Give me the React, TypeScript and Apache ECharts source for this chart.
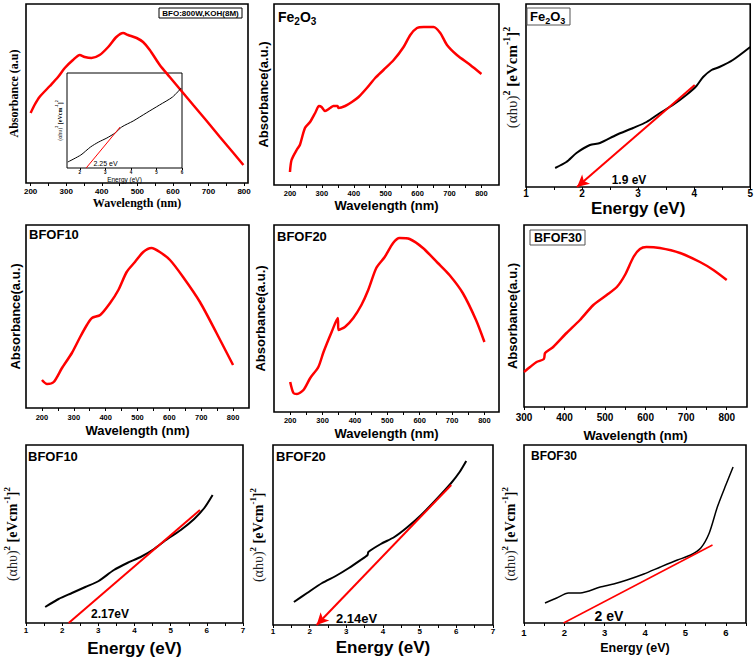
import React, { useEffect, useRef } from "react";
import * as echarts from "echarts";

const SANS = '"Liberation Sans", Arial, sans-serif';
const SERIF = '"Liberation Serif", "Times New Roman", serif';
const RED = "#ff0000";
const BLACK = "#000000";

// ---------- DATA (arbitrary absorbance / Tauc units) ----------
// (a) BFO:800W,KOH(8M) absorbance
const bfoWavelength = [200, 211, 225, 254, 277, 296, 319, 338, 352, 371, 394, 418, 441, 460, 474, 498, 516, 535, 563, 591, 624, 657, 695, 732, 770, 798];
const bfoAbsorbance = [70, 78, 86, 97, 106, 115, 123, 128, 126, 125, 128, 136, 146, 150, 148, 145, 141, 133, 118, 106, 92, 78, 62, 46, 30, 18];
// (a) inset Tauc plot
const bfoInsetEnergy = [1.53, 2.04, 2.42, 2.74, 3.06, 3.38, 3.64, 4.09, 4.6, 5.12, 5.63, 5.97];
const bfoInsetTauc = [6, 13, 21, 26, 30, 35, 41, 47, 55, 63, 71, 80];
const bfoInsetFitEnergy = [2.25, 3.58];
const bfoInsetFitTauc = [0, 41];

// (b) Fe2O3 absorbance
const fe2o3Wavelength = [200, 205, 221, 231, 247, 263, 279, 291, 299, 310, 326, 336, 349, 352, 373, 394, 415, 441, 467, 493, 525, 556, 577, 598, 619, 650, 671, 692, 723, 765, 800];
const fe2o3Absorbance = [13, 25, 35, 40, 57, 63, 72, 79, 78, 74, 77, 79, 79, 77, 79, 83, 88, 97, 107, 115, 125, 138, 150, 157, 158, 158, 152, 140, 130, 120, 111];

// (c) Fe2O3 Tauc
const fe2o3Energy = [1.52, 1.72, 1.9, 2.14, 2.32, 2.61, 2.91, 3.15, 3.39, 3.62, 3.86, 4.04, 4.16, 4.31, 4.45, 4.69, 5.0];
const fe2o3Tauc = [19, 25, 34, 42, 44, 52, 59, 65, 74, 82, 92, 101, 110, 117, 120, 127, 140];
const fe2o3FitEnergy = [4.01, 1.91];
const fe2o3FitTauc = [102, 0];

// (d) BFOF10 absorbance
const bfof10Wavelength = [200, 216, 237, 263, 294, 320, 341, 357, 383, 414, 440, 466, 492, 518, 544, 570, 602, 643, 696, 748, 800];
const bfof10Absorbance = [28, 24, 26, 40, 55, 71, 83, 90, 93, 105, 118, 136, 146, 156, 160, 156, 148, 131, 106, 75, 43];

// (e) BFOF20 absorbance
const bfof20Wavelength = [200, 210, 221, 241, 262, 287, 303, 328, 347, 349, 369, 395, 420, 441, 466, 492, 518, 538, 569, 610, 656, 692, 733, 774, 800];
const bfof20Absorbance = [30, 19, 18, 22, 34, 45, 60, 80, 94, 82, 85, 94, 107, 122, 144, 155, 169, 174, 173, 164, 149, 137, 119, 92, 70];

// (f) BFOF30 absorbance
const bfof30Wavelength = [300, 315, 331, 349, 352, 372, 405, 438, 471, 504, 529, 549, 570, 586, 602, 635, 685, 734, 767, 800];
const bfof30Absorbance = [35, 40, 45, 48, 54, 60, 74, 87, 102, 112, 120, 132, 150, 158, 160, 159, 154, 145, 137, 127];

// (g) BFOF10 Tauc
const bfof10Energy = [1.53, 1.9, 2.27, 2.64, 3.01, 3.43, 3.8, 4.17, 4.54, 4.91, 5.28, 5.65, 5.93, 6.16];
const bfof10Tauc = [16, 24, 30, 36, 42, 53, 60, 66, 74, 84, 93, 104, 115, 128];
const bfof10FitEnergy = [2.18, 5.81];
const bfof10FitTauc = [0, 113];

// (h) BFOF20 Tauc
const bfof20Energy = [1.57, 1.93, 2.34, 2.71, 3.07, 3.39, 3.58, 3.6, 3.94, 4.31, 4.67, 5.04, 5.49, 5.86, 6.09, 6.27];
const bfof20Tauc = [23, 32, 42, 49, 57, 65, 70, 73, 81, 88, 98, 110, 127, 142, 153, 164];
const bfof20FitEnergy = [5.86, 2.19];
const bfof20FitTauc = [140, 0];

// (i) BFOF30 Tauc
const bfof30Energy = [1.52, 1.81, 2.1, 2.39, 2.89, 3.22, 3.55, 3.97, 4.38, 4.8, 5.13, 5.38, 5.59, 5.79, 6.0, 6.18];
const bfof30Tauc = [20, 25, 30, 30, 36, 39, 43, 49, 56, 63, 68, 75, 90, 116, 138, 156];
const bfof30FitEnergy = [1.98, 5.67];
const bfof30FitTauc = [0, 78];

// tick labels
const wavelengthLabels = [200, 300, 400, 500, 600, 700, 800];
const wavelengthTicks = [200, 250, 300, 350, 400, 450, 500, 550, 600, 650, 700, 750, 800];
const bfof30WavelengthLabels = [300, 400, 500, 600, 700, 800];
const bfof30WavelengthTicks = [300, 350, 400, 450, 500, 550, 600, 650, 700, 750, 800];
const insetEnergyLabels = [2, 3, 4, 5, 6];
const fe2o3EnergyLabels = [1, 2, 3, 4, 5];
const fe2o3EnergyTicks = [1, 1.5, 2, 2.5, 3, 3.5, 4, 4.5, 5];
const energy7Labels = [1, 2, 3, 4, 5, 6, 7];
const energy7Ticks = [1, 1.5, 2, 2.5, 3, 3.5, 4, 4.5, 5, 5.5, 6, 6.5, 7];
const energy6Labels = [1, 2, 3, 4, 5, 6];
const energy6Ticks = [1, 1.5, 2, 2.5, 3, 3.5, 4, 4.5, 5, 5.5, 6, 6.5];

// ---------- LAYOUT ----------
const grids = [
  { left: 26, top: 4, width: 222, height: 179 },
  { left: 67, top: 73, width: 115, height: 95 },
  { left: 274, top: 4, width: 225, height: 181 },
  { left: 526, top: 4, width: 225, height: 183 },
  { left: 26, top: 225, width: 223, height: 183 },
  { left: 274, top: 225, width: 225, height: 187 },
  { left: 524, top: 225, width: 223, height: 182 },
  { left: 26, top: 445, width: 217, height: 178 },
  { left: 273, top: 445, width: 220, height: 180 },
  { left: 524, top: 445, width: 222, height: 178 },
];

const zip = (xs: number[], ys: number[]) => xs.map((x, i) => [x, ys[i]]);

const TAUC_NAME = "{n|(αhυ)}{s|2}{b| [eVcm}{s|-1}{b|]}{s|2}";
function taucStyle(size: number, sup: number, extra: any = {}) {
  return {
    fontFamily: SERIF,
    color: BLACK,
    ...extra,
    rich: {
      n: { fontFamily: SERIF, fontSize: size, fontWeight: "normal", color: "#222", lineHeight: size + 6 },
      b: { fontFamily: SERIF, fontSize: size, fontWeight: "bold", color: BLACK, lineHeight: size + 6 },
      s: { fontFamily: SERIF, fontSize: sup, fontWeight: "bold", color: BLACK, lineHeight: sup, verticalAlign: "top" },
    },
  };
}

function xAxis(
  i: number, min: number, max: number, labels: number[], ticks: number[],
  labelSize: number, margin: number, name: string, nameGap: number, nameStyle: any
) {
  return {
    type: "value", gridIndex: i, min, max,
    axisLine: { show: false },
    splitLine: { show: false },
    axisTick: { show: true, inside: false, length: i === 1 ? 2 : 3, lineStyle: { color: BLACK, width: 1 }, customValues: ticks },
    axisLabel: { customValues: labels, fontSize: labelSize, fontWeight: "bold", fontFamily: SANS, color: BLACK, margin },
    name, nameLocation: "middle", nameGap, nameTextStyle: nameStyle,
  };
}

function yAxis(i: number, name: string, nameGap: number, nameStyle: any) {
  return {
    type: "value", gridIndex: i, min: 0, max: grids[i].height,
    axisLine: { show: false }, axisTick: { show: false }, axisLabel: { show: false }, splitLine: { show: false },
    name, nameLocation: "middle", nameGap, nameTextStyle: nameStyle,
  };
}

function curve(i: number, data: number[][], color: string, width: number, extra: any = {}) {
  return {
    type: "line", xAxisIndex: i, yAxisIndex: i, data,
    showSymbol: false, symbol: "none", smooth: 0.25,
    lineStyle: { color, width }, silent: true, z: 3,
    ...extra,
  };
}

function arrow(fx: number[], fy: number[]) {
  return {
    silent: true,
    symbol: ["none", "arrow"],
    symbolSize: [9, 12],
    label: { show: false },
    emphasis: { disabled: true },
    lineStyle: { color: RED, width: 2, type: "solid" },
    data: [[{ coord: [fx[0], fy[0]] }, { coord: [fx[1], fy[1]] }]],
  };
}

const sansBold = (size: number) => ({ fontFamily: SANS, fontWeight: "bold", fontSize: size, color: BLACK });
const serifBold = (size: number) => ({ fontFamily: SERIF, fontWeight: "bold", fontSize: size, color: BLACK });

function label(text: string, x: number, y: number, font: string, align = "left") {
  return {
    type: "text", x, y, silent: true, z: 10,
    style: { text, font, fill: BLACK, align, textAlign: align, verticalAlign: "middle", textVerticalAlign: "middle" },
  };
}

function feLabel(x: number, y: number, size: number, sub: number) {
  return {
    type: "text", x, y, silent: true, z: 10,
    style: {
      text: "{a|Fe}{b|2}{a|O}{b|3}",
      fill: BLACK, align: "left", textAlign: "left", verticalAlign: "middle", textVerticalAlign: "middle",
      rich: {
        a: { fontFamily: SANS, fontWeight: "bold", fontSize: size, lineHeight: size + 4, fill: BLACK, color: BLACK },
        b: { fontFamily: SANS, fontWeight: "bold", fontSize: sub, lineHeight: sub, verticalAlign: "bottom", fill: BLACK, color: BLACK },
      },
    },
  };
}

function box(x: number, y: number, w: number, h: number, stroke: string) {
  return {
    type: "rect", silent: true, z: 9,
    shape: { x, y, width: w, height: h },
    style: { fill: "#ffffff", stroke, lineWidth: 1 },
  };
}

export default function App() {
  const ref = useRef<HTMLDivElement>(null);

  useEffect(() => {
    if (!ref.current) return;
    const chart = echarts.init(ref.current, null, { renderer: "svg" });

    const option: any = {
      animation: false,
      backgroundColor: "#ffffff",
      grid: grids.map((g, i) => ({
        ...g, containLabel: false, show: true,
        borderColor: BLACK, borderWidth: i === 1 ? 1 : 1.6, backgroundColor: "transparent",
      })),
      xAxis: [
        xAxis(0, 187, 811, wavelengthLabels, wavelengthTicks, 8, 4.5, "Wavelength (nm)", 14, serifBold(12)),
        xAxis(1, 1.5, 6, insetEnergyLabels, insetEnergyLabels, 4.5, 2.4, "Energy (eV)", 4.7, { ...sansBold(6.5), fontWeight: "normal" }),
        xAxis(2, 150, 855, wavelengthLabels, wavelengthTicks, 7.5, 4.7, "Wavelength (nm)", 12.5, sansBold(13)),
        xAxis(3, 1, 5, fe2o3EnergyLabels, fe2o3EnergyTicks, 10, 1.5, "Energy (eV)", 13, sansBold(17)),
        xAxis(4, 150, 850, wavelengthLabels, wavelengthTicks, 7.5, 5, "Wavelength (nm)", 15.5, sansBold(13)),
        xAxis(5, 150, 845, wavelengthLabels, wavelengthTicks, 7.5, 4, "Wavelength (nm)", 14.5, sansBold(13)),
        xAxis(6, 300, 850, bfof30WavelengthLabels, bfof30WavelengthTicks, 10, 5, "Wavelength (nm)", 21.5, sansBold(13)),
        xAxis(7, 1, 7, energy7Labels, energy7Ticks, 8, 3, "Energy (eV)", 16.5, sansBold(17)),
        xAxis(8, 1, 7, energy7Labels, energy7Ticks, 8, 2.7, "Energy (eV)", 13.5, sansBold(17)),
        xAxis(9, 1, 6.5, energy6Labels, energy6Ticks, 9.5, 4, "Energy (eV)", 18.7, sansBold(12.5)),
      ],
      yAxis: [
        yAxis(0, "Absorbance (a.u)", 6, serifBold(12)),
        yAxis(1, TAUC_NAME, 1, taucStyle(6, 4)),
        yAxis(2, "Absorbance(a.u.)", 4.5, sansBold(13)),
        yAxis(3, TAUC_NAME, 3.5, taucStyle(15, 10, { padding: [0, 0, 0, 36] })),
        yAxis(4, "Absorbance(a.u.)", 4.5, sansBold(13)),
        yAxis(5, "Absorbance(a.u.)", 7.5, sansBold(13)),
        yAxis(6, "Absorbance(a.u.)", 5.5, sansBold(13)),
        yAxis(7, TAUC_NAME, 4, taucStyle(14, 9)),
        yAxis(8, TAUC_NAME, 5, taucStyle(14, 9)),
        yAxis(9, TAUC_NAME, 4, taucStyle(14, 9)),
      ],
      series: [
        curve(0, zip(bfoWavelength, bfoAbsorbance), RED, 2.5),
        curve(1, zip(bfoInsetEnergy, bfoInsetTauc), BLACK, 1),
        curve(1, zip(bfoInsetFitEnergy, bfoInsetFitTauc), RED, 1, { smooth: false }),
        curve(2, zip(fe2o3Wavelength, fe2o3Absorbance), RED, 2.5),
        curve(3, zip(fe2o3Energy, fe2o3Tauc), BLACK, 2, { markLine: arrow(fe2o3FitEnergy, fe2o3FitTauc) }),
        curve(4, zip(bfof10Wavelength, bfof10Absorbance), RED, 2.5),
        curve(5, zip(bfof20Wavelength, bfof20Absorbance), RED, 2.5),
        curve(6, zip(bfof30Wavelength, bfof30Absorbance), RED, 2.5),
        curve(7, zip(bfof10Energy, bfof10Tauc), BLACK, 2),
        curve(7, zip(bfof10FitEnergy, bfof10FitTauc), RED, 2, { smooth: false }),
        curve(8, zip(bfof20Energy, bfof20Tauc), BLACK, 2, { markLine: arrow(bfof20FitEnergy, bfof20FitTauc) }),
        curve(9, zip(bfof30Energy, bfof30Tauc), BLACK, 1.5),
        curve(9, zip(bfof30FitEnergy, bfof30FitTauc), RED, 1.5, { smooth: false }),
      ],
      graphic: [
        box(159, 8, 83, 10, BLACK),
        label("BFO:800W,KOH(8M)", 200.5, 13.2, `bold 8px ${SANS}`, "center"),
        label("2.25 eV", 105.5, 163, `7px ${SANS}`, "center"),
        feLabel(278, 17, 14, 10),
        box(527, 8, 43, 17, "#555555"),
        feLabel(530, 16.5, 13, 9),
        label("1.9 eV", 629, 180, `bold 12px ${SANS}`, "center"),
        label("BFOF10", 29, 234, `bold 13px ${SANS}`),
        label("BFOF20", 277, 236.5, `bold 13px ${SANS}`),
        box(530, 230, 55, 15, "#555555"),
        label("BFOF30", 534, 238, `bold 12.5px ${SANS}`),
        label("BFOF10", 28, 456, `bold 13px ${SANS}`),
        label("2.17eV", 110, 614, `bold 12px ${SANS}`, "center"),
        label("BFOF20", 276, 456, `bold 13px ${SANS}`),
        label("2.14eV", 356.5, 618, `bold 13px ${SANS}`, "center"),
        label("BFOF30", 531, 455.5, `bold 12px ${SANS}`),
        label("2 eV", 609, 616, `bold 14px ${SANS}`, "center"),
      ],
    };

    chart.setOption(option);
    return () => chart.dispose();
  }, []);

  return (
    <div
      ref={ref}
      style={{ position: "absolute", left: 0, top: 0, width: 756, height: 660, background: "#ffffff" }}
    />
  );
}
